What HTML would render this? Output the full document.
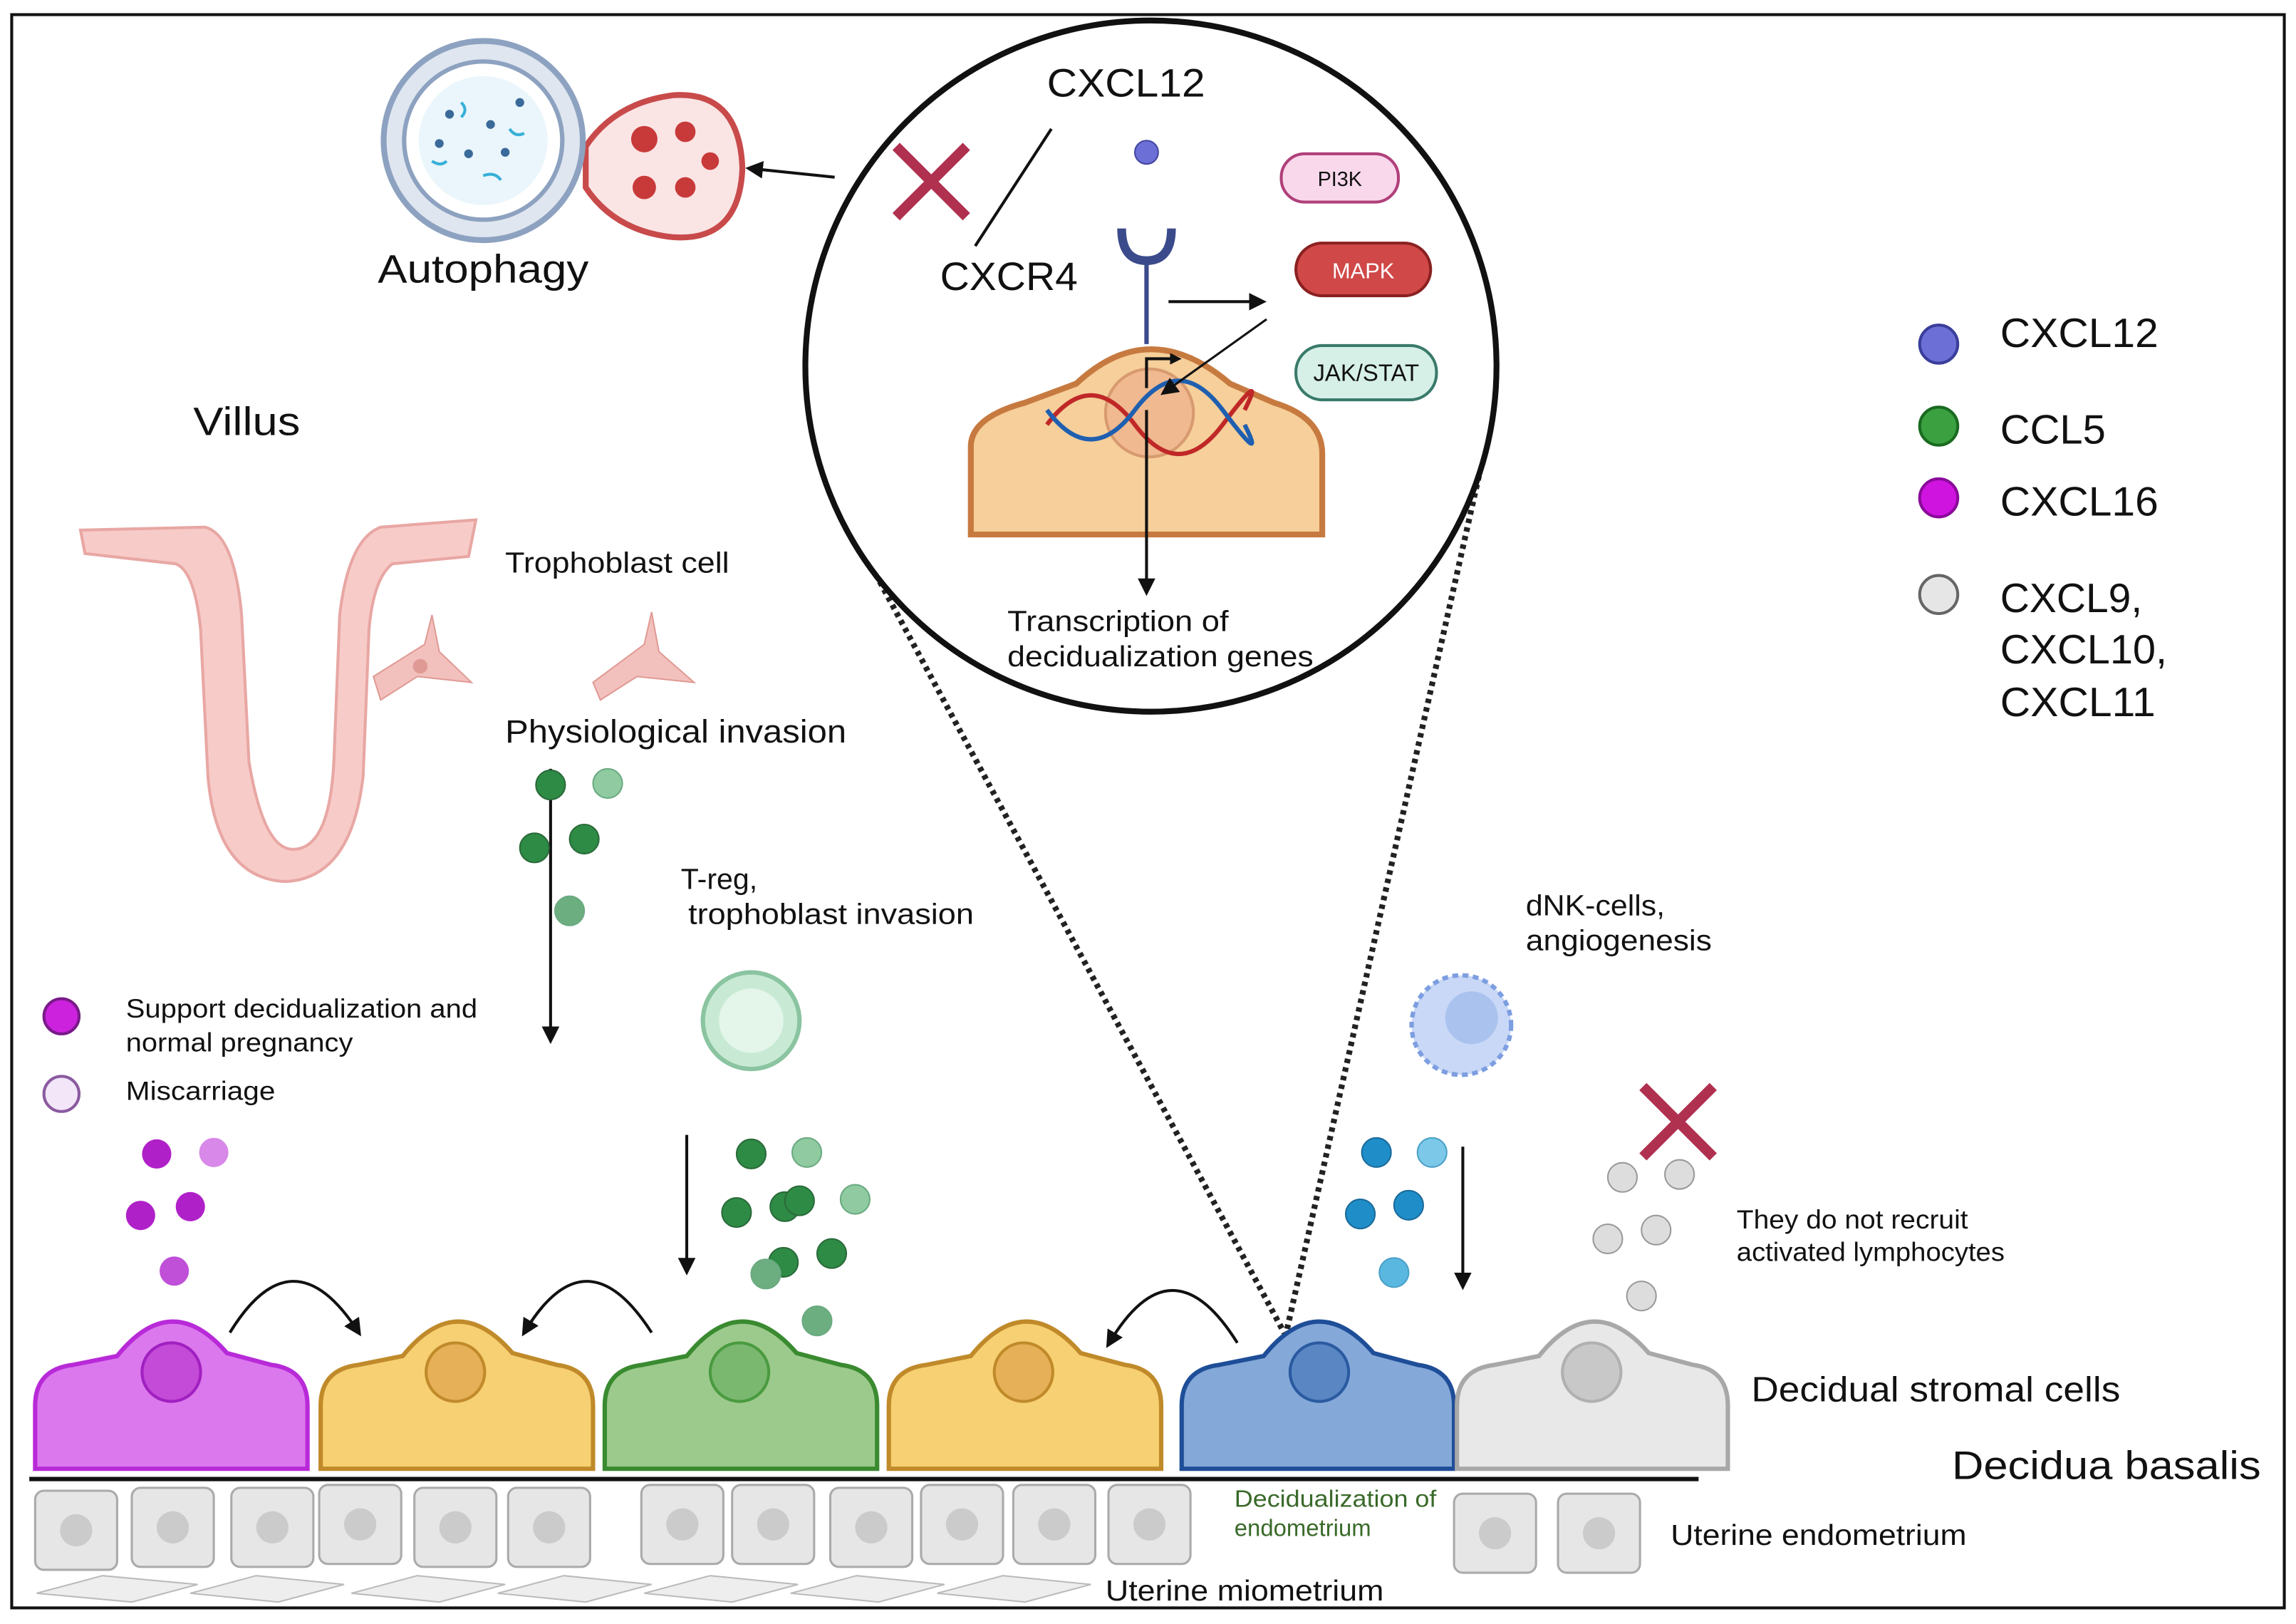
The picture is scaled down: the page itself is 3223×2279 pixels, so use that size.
<!DOCTYPE html>
<html><head><meta charset="utf-8"><style>
html,body{margin:0;padding:0;background:#fff}
svg{display:block}
text{font-family:"Liberation Sans",sans-serif;fill:#111}
</style></head><body>
<svg width="3223" height="2279" viewBox="0 0 1568 1109" preserveAspectRatio="none" xmlns="http://www.w3.org/2000/svg">
<defs>
<marker id="ah" markerWidth="8" markerHeight="8" refX="6" refY="4" orient="auto" markerUnits="userSpaceOnUse"><path d="M0,0 L8,4 L0,8 Z" fill="#111"/></marker>
<marker id="ah2" markerWidth="12" markerHeight="12" refX="9" refY="6" orient="auto" markerUnits="userSpaceOnUse"><path d="M0,0 L12,6 L0,12 Z" fill="#111"/></marker>
</defs>
<rect x="0" y="0" width="1568" height="1109" fill="#fff"/>
<rect x="8" y="10" width="1552" height="1088" fill="none" stroke="#111" stroke-width="2"/>

<line x1="598" y1="392" x2="878" y2="912" stroke="#222" stroke-width="4" stroke-dasharray="3,3"/>
<line x1="1010" y1="325" x2="878" y2="912" stroke="#222" stroke-width="4" stroke-dasharray="3,3"/>

<circle cx="786" cy="250" r="236" fill="#fff" stroke="#111" stroke-width="4"/>
<text x="715" y="66" font-size="27" textLength="108" lengthAdjust="spacingAndGlyphs">CXCL12</text>
<line x1="718" y1="88" x2="666" y2="168" stroke="#111" stroke-width="2"/>
<text x="642" y="198" font-size="27" textLength="94" lengthAdjust="spacingAndGlyphs">CXCR4</text>
<path d="M612,100 L660,148 M660,100 L612,148" stroke="#b03050" stroke-width="7"/>
<circle cx="783" cy="104" r="8" fill="#6b6fd6" stroke="#4446a0"/>
<path d="M766,156 Q766,178 783,178 Q800,178 800,156" fill="none" stroke="#3b4a8a" stroke-width="6"/>
<line x1="783" y1="178" x2="783" y2="235" stroke="#3b4a8a" stroke-width="3"/>
<path d="M663,365 L663,305 Q663,285 700,275 L735,262 Q785,215 840,262 L870,275 Q903,285 903,310 L903,365 Z" fill="#f6cf9a" stroke="#c77a40" stroke-width="4"/>
<circle cx="785" cy="282" r="30" fill="#f0b990" stroke="#d89a70" stroke-width="2"/>
<path d="M715,290 Q745,250 775,290 T835,290 T850,280" fill="none" stroke="#c02828" stroke-width="3"/>
<path d="M715,280 Q745,320 775,280 T835,280 T850,290" fill="none" stroke="#1f5fb0" stroke-width="3"/>
<path d="M783,265 L783,245 L805,245" fill="none" stroke="#111" stroke-width="2" marker-end="url(#ah)"/>
<line x1="783" y1="280" x2="783" y2="404" stroke="#111" stroke-width="2" marker-end="url(#ah2)"/>
<line x1="798" y1="206" x2="862" y2="206" stroke="#111" stroke-width="2" marker-end="url(#ah2)"/>
<line x1="865" y1="218" x2="795" y2="268" stroke="#111" stroke-width="1.5" marker-end="url(#ah2)"/>
<rect x="875" y="105" width="80" height="33" rx="16" fill="#f9d8ec" stroke="#b0407a" stroke-width="2"/>
<text x="915" y="127" font-size="14" text-anchor="middle">PI3K</text>
<rect x="885" y="166" width="92" height="36" rx="18" fill="#d04848" stroke="#8a2020" stroke-width="2"/>
<text x="931" y="190" font-size="15" text-anchor="middle" style="fill:#fff">MAPK</text>
<rect x="885" y="236" width="96" height="37" rx="18" fill="#d6f0e8" stroke="#3a7a6a" stroke-width="2"/>
<text x="933" y="260" font-size="16" text-anchor="middle">JAK/STAT</text>
<text x="688" y="431" font-size="20" textLength="151" lengthAdjust="spacingAndGlyphs">Transcription of</text>
<text x="688" y="455" font-size="20" textLength="209" lengthAdjust="spacingAndGlyphs">decidualization genes</text>

<path d="M400,100 Q420,70 460,65 Q505,62 507,115 Q505,165 460,162 Q420,158 400,128 Z" fill="#fbe4e4" stroke="#c84a4a" stroke-width="4"/>
<circle cx="330" cy="96" r="68" fill="#dfe6f0" stroke="#8da2c0" stroke-width="4"/>
<circle cx="330" cy="96" r="54" fill="#fff" stroke="#8da2c0" stroke-width="3"/>
<circle cx="330" cy="96" r="44" fill="#eaf6fb"/>
<g fill="#3a6a9a"><circle cx="307" cy="78" r="3"/><circle cx="345" cy="104" r="3"/><circle cx="320" cy="105" r="3"/><circle cx="355" cy="70" r="3"/><circle cx="300" cy="98" r="3"/><circle cx="335" cy="85" r="3"/></g>
<g fill="none" stroke="#38b0d8" stroke-width="2"><path d="M315,70 q5,5 0,10"/><path d="M330,120 q8,-3 12,3"/><path d="M295,110 q6,4 10,0"/><path d="M348,88 q4,6 10,3"/></g>
<g fill="#c83a3a"><circle cx="440" cy="95" r="9"/><circle cx="468" cy="90" r="7"/><circle cx="440" cy="128" r="8"/><circle cx="468" cy="128" r="7"/><circle cx="485" cy="110" r="6"/></g>
<line x1="570" y1="121" x2="512" y2="115" stroke="#111" stroke-width="2" marker-end="url(#ah2)"/>
<text x="258" y="193" font-size="27" textLength="144" lengthAdjust="spacingAndGlyphs">Autophagy</text>

<text x="132" y="297" font-size="27" textLength="73" lengthAdjust="spacingAndGlyphs">Villus</text>
<path d="M55,362 L140,360 Q160,365 165,420 L170,520 Q180,580 200,580 Q225,580 228,520 L232,420 Q238,368 260,360 L325,355 L320,380 L268,385 Q255,395 252,430 L248,530 Q240,600 195,602 Q148,600 142,530 L137,430 Q133,390 120,385 L58,378 Z" fill="#f7cbc8" stroke="#e8a7a4" stroke-width="2"/>
<path d="M255,462 L290,440 L295,420 L300,445 L322,466 L285,462 L260,478 Z" fill="#f3c1bd" stroke="#e09a95"/>
<circle cx="287" cy="455" r="5" fill="#e09a95"/>
<path d="M405,466 L440,440 L445,418 L450,445 L474,466 L435,462 L410,478 Z" fill="#f3c1bd" stroke="#e09a95"/>
<text x="345" y="391" font-size="20" textLength="153" lengthAdjust="spacingAndGlyphs">Trophoblast cell</text>
<text x="345" y="507" font-size="22" textLength="233" lengthAdjust="spacingAndGlyphs">Physiological invasion</text>

<line x1="376" y1="525" x2="376" y2="710" stroke="#111" stroke-width="2" marker-end="url(#ah2)"/>
<g stroke="#2a6a3a"><circle cx="376" cy="536" r="10" fill="#2e8b45"/><circle cx="365" cy="579" r="10" fill="#2e8b45"/><circle cx="399" cy="573" r="10" fill="#2e8b45"/></g>
<g stroke="#6aaa80"><circle cx="415" cy="535" r="10" fill="#8fcaa0"/><circle cx="389" cy="622" r="10" fill="#6dae80"/></g>

<text x="465" y="607" font-size="20">T-reg,</text>
<text x="470" y="631" font-size="20" textLength="195" lengthAdjust="spacingAndGlyphs">trophoblast invasion</text>
<circle cx="513" cy="697" r="33" fill="#c8ead4" stroke="#8ac4a0" stroke-width="3"/>
<circle cx="513" cy="697" r="22" fill="#e4f5ea"/>

<text x="1042" y="625" font-size="20" textLength="95" lengthAdjust="spacingAndGlyphs">dNK-cells,</text>
<text x="1042" y="649" font-size="20" textLength="127" lengthAdjust="spacingAndGlyphs">angiogenesis</text>
<circle cx="998" cy="700" r="34" fill="#c8d8f6" stroke="#7d9ee0" stroke-width="3" stroke-dasharray="4,3"/>
<circle cx="1005" cy="695" r="18" fill="#aac2ee"/>

<circle cx="42" cy="694" r="12" fill="#cc22dd" stroke="#7a1a8a" stroke-width="2"/>
<text x="86" y="695" font-size="18" textLength="240" lengthAdjust="spacingAndGlyphs">Support decidualization and</text>
<text x="86" y="718" font-size="18" textLength="155" lengthAdjust="spacingAndGlyphs">normal pregnancy</text>
<circle cx="42" cy="747" r="12" fill="#f2e6f8" stroke="#8a5aa0" stroke-width="2"/>
<text x="86" y="751" font-size="18" textLength="102" lengthAdjust="spacingAndGlyphs">Miscarriage</text>

<circle cx="1324" cy="235" r="13" fill="#6b6fd6" stroke="#3a3e9a" stroke-width="2"/>
<text x="1366" y="237" font-size="28" textLength="108" lengthAdjust="spacingAndGlyphs">CXCL12</text>
<circle cx="1324" cy="291" r="13" fill="#3aa040" stroke="#1a6a20" stroke-width="2"/>
<text x="1366" y="303" font-size="28" textLength="72" lengthAdjust="spacingAndGlyphs">CCL5</text>
<circle cx="1324" cy="340" r="13" fill="#d014e0" stroke="#8a0a9a" stroke-width="2"/>
<text x="1366" y="352" font-size="28" textLength="108" lengthAdjust="spacingAndGlyphs">CXCL16</text>
<circle cx="1324" cy="406" r="13" fill="#e6e6e6" stroke="#666" stroke-width="2"/>
<text x="1366" y="418" font-size="28" textLength="97" lengthAdjust="spacingAndGlyphs">CXCL9,</text>
<text x="1366" y="453" font-size="28" textLength="114" lengthAdjust="spacingAndGlyphs">CXCL10,</text>
<text x="1366" y="489" font-size="28" textLength="106" lengthAdjust="spacingAndGlyphs">CXCL11</text>

<g><circle cx="107" cy="788" r="10" fill="#b020c8"/><circle cx="146" cy="787" r="10" fill="#d888e8"/><circle cx="96" cy="830" r="10" fill="#b020c8"/><circle cx="130" cy="824" r="10" fill="#b020c8"/><circle cx="119" cy="868" r="10" fill="#c050d8"/></g>
<g stroke="#2a6a3a"><circle cx="513" cy="788" r="10" fill="#2e8b45"/><circle cx="503" cy="828" r="10" fill="#2e8b45"/><circle cx="536" cy="824" r="10" fill="#2e8b45"/><circle cx="546" cy="820" r="10" fill="#2e8b45"/><circle cx="568" cy="856" r="10" fill="#2e8b45"/><circle cx="535" cy="862" r="10" fill="#2e8b45"/></g>
<g stroke="#6aaa80"><circle cx="551" cy="787" r="10" fill="#8fcaa0"/><circle cx="584" cy="819" r="10" fill="#8fcaa0"/><circle cx="523" cy="870" r="10" fill="#6dae80"/><circle cx="558" cy="902" r="10" fill="#6dae80"/></g>
<line x1="469" y1="775" x2="469" y2="868" stroke="#111" stroke-width="2" marker-end="url(#ah2)"/>
<g stroke="#1a6a9a"><circle cx="940" cy="787" r="10" fill="#1f8ec8"/><circle cx="929" cy="829" r="10" fill="#1f8ec8"/><circle cx="962" cy="823" r="10" fill="#1f8ec8"/></g>
<g stroke="#4aa0c8"><circle cx="978" cy="787" r="10" fill="#7cc8e8"/><circle cx="952" cy="869" r="10" fill="#5ab8e0"/></g>
<line x1="999" y1="783" x2="999" y2="878" stroke="#111" stroke-width="2" marker-end="url(#ah2)"/>
<path d="M1122,742 L1170,790 M1170,742 L1122,790" stroke="#b03050" stroke-width="7"/>
<g fill="#ddd" stroke="#999"><circle cx="1108" cy="804" r="10"/><circle cx="1147" cy="802" r="10"/><circle cx="1098" cy="846" r="10"/><circle cx="1131" cy="840" r="10"/><circle cx="1121" cy="885" r="10"/></g>
<text x="1186" y="839" font-size="18" textLength="158" lengthAdjust="spacingAndGlyphs">They do not recruit</text>
<text x="1186" y="861" font-size="18" textLength="183" lengthAdjust="spacingAndGlyphs">activated lymphocytes</text>

<path d="M157,910 Q200,840 245,910" fill="none" stroke="#111" stroke-width="2" marker-end="url(#ah2)"/>
<path d="M445,910 Q400,840 358,910" fill="none" stroke="#111" stroke-width="2" marker-end="url(#ah2)"/>
<path d="M845,917 Q800,845 757,918" fill="none" stroke="#111" stroke-width="2" marker-end="url(#ah2)"/>

<g stroke-width="3">
<path d="M24,1003 L24,960 Q24,935 50,932 L80,926 Q117,880 155,924 L185,932 Q210,935 210,960 L210,1003 Z" fill="#dc78ee" stroke="#b82ad8"/>
<circle cx="117" cy="937" r="20" fill="#c44ad8" stroke="#a020c0" stroke-width="2"/>
<path d="M219,1003 L219,960 Q219,935 245,932 L275,926 Q312,880 350,924 L380,932 Q405,935 405,960 L405,1003 Z" fill="#f6d072" stroke="#c08a2a"/>
<circle cx="311" cy="937" r="20" fill="#e6b058" stroke="#c08a2a" stroke-width="2"/>
<path d="M413,1003 L413,960 Q413,935 439,932 L469,926 Q506,880 544,924 L574,932 Q599,935 599,960 L599,1003 Z" fill="#9cca8c" stroke="#3a8a30"/>
<circle cx="505" cy="937" r="20" fill="#7ab870" stroke="#4a9a40" stroke-width="2"/>
<path d="M607,1003 L607,960 Q607,935 633,932 L663,926 Q700,880 738,924 L768,932 Q793,935 793,960 L793,1003 Z" fill="#f6d072" stroke="#c08a2a"/>
<circle cx="699" cy="937" r="20" fill="#e6b058" stroke="#c08a2a" stroke-width="2"/>
<path d="M807,1003 L807,960 Q807,935 833,932 L863,926 Q900,880 938,924 L968,932 Q993,935 993,960 L993,1003 Z" fill="#84a8d8" stroke="#1f4e98"/>
<circle cx="901" cy="937" r="20" fill="#5a86c4" stroke="#2a5aa0" stroke-width="2"/>
<path d="M995,1003 L995,960 Q995,935 1021,932 L1051,926 Q1088,880 1126,924 L1156,932 Q1180,935 1180,960 L1180,1003 Z" fill="#e8e8e8" stroke="#a8a8a8"/>
<circle cx="1087" cy="937" r="20" fill="#c8c8c8" stroke="#b0b0b0" stroke-width="2"/>
</g>
<text x="1196" y="957" font-size="24" textLength="252" lengthAdjust="spacingAndGlyphs">Decidual stromal cells</text>
<text x="1333" y="1010" font-size="27" textLength="211" lengthAdjust="spacingAndGlyphs">Decidua basalis</text>
<line x1="20" y1="1010" x2="1160" y2="1010" stroke="#111" stroke-width="3"/>

<g fill="#e6e6e6" stroke="#aaa" stroke-width="1.5">
<rect x="24" y="1018" width="56" height="54" rx="6"/><rect x="90" y="1016" width="56" height="54" rx="6"/><rect x="158" y="1016" width="56" height="54" rx="6"/><rect x="218" y="1014" width="56" height="54" rx="6"/><rect x="283" y="1016" width="56" height="54" rx="6"/><rect x="347" y="1016" width="56" height="54" rx="6"/>
<rect x="438" y="1014" width="56" height="54" rx="6"/><rect x="500" y="1014" width="56" height="54" rx="6"/><rect x="567" y="1016" width="56" height="54" rx="6"/><rect x="629" y="1014" width="56" height="54" rx="6"/><rect x="692" y="1014" width="56" height="54" rx="6"/><rect x="757" y="1014" width="56" height="54" rx="6"/>
<rect x="993" y="1020" width="56" height="54" rx="6"/><rect x="1064" y="1020" width="56" height="54" rx="6"/>
</g>
<g fill="#cbcbcb"><circle cx="52" cy="1045" r="11"/><circle cx="118" cy="1043" r="11"/><circle cx="186" cy="1043" r="11"/><circle cx="246" cy="1041" r="11"/><circle cx="311" cy="1043" r="11"/><circle cx="375" cy="1043" r="11"/><circle cx="466" cy="1041" r="11"/><circle cx="528" cy="1041" r="11"/><circle cx="595" cy="1043" r="11"/><circle cx="657" cy="1041" r="11"/><circle cx="720" cy="1041" r="11"/><circle cx="785" cy="1041" r="11"/><circle cx="1021" cy="1047" r="11"/><circle cx="1092" cy="1047" r="11"/></g>
<text x="843" y="1029" font-size="16" style="fill:#3a6a2a" textLength="138" lengthAdjust="spacingAndGlyphs">Decidualization of</text>
<text x="843" y="1049" font-size="16" style="fill:#3a6a2a">endometrium</text>
<text x="1141" y="1055" font-size="20" textLength="202" lengthAdjust="spacingAndGlyphs">Uterine endometrium</text>
<g fill="#eee" stroke="#bbb"><path d="M25,1088 L70,1076 L135,1082 L90,1094 Z"/><path d="M130,1088 L175,1076 L235,1082 L190,1094 Z"/><path d="M240,1088 L285,1076 L345,1082 L300,1094 Z"/><path d="M340,1088 L385,1076 L445,1082 L400,1094 Z"/><path d="M440,1088 L485,1076 L545,1082 L500,1094 Z"/><path d="M540,1088 L585,1076 L645,1082 L600,1094 Z"/><path d="M640,1088 L685,1076 L745,1082 L700,1094 Z"/></g>
<text x="755" y="1093" font-size="20" textLength="190" lengthAdjust="spacingAndGlyphs">Uterine miometrium</text>
</svg>
</body></html>
